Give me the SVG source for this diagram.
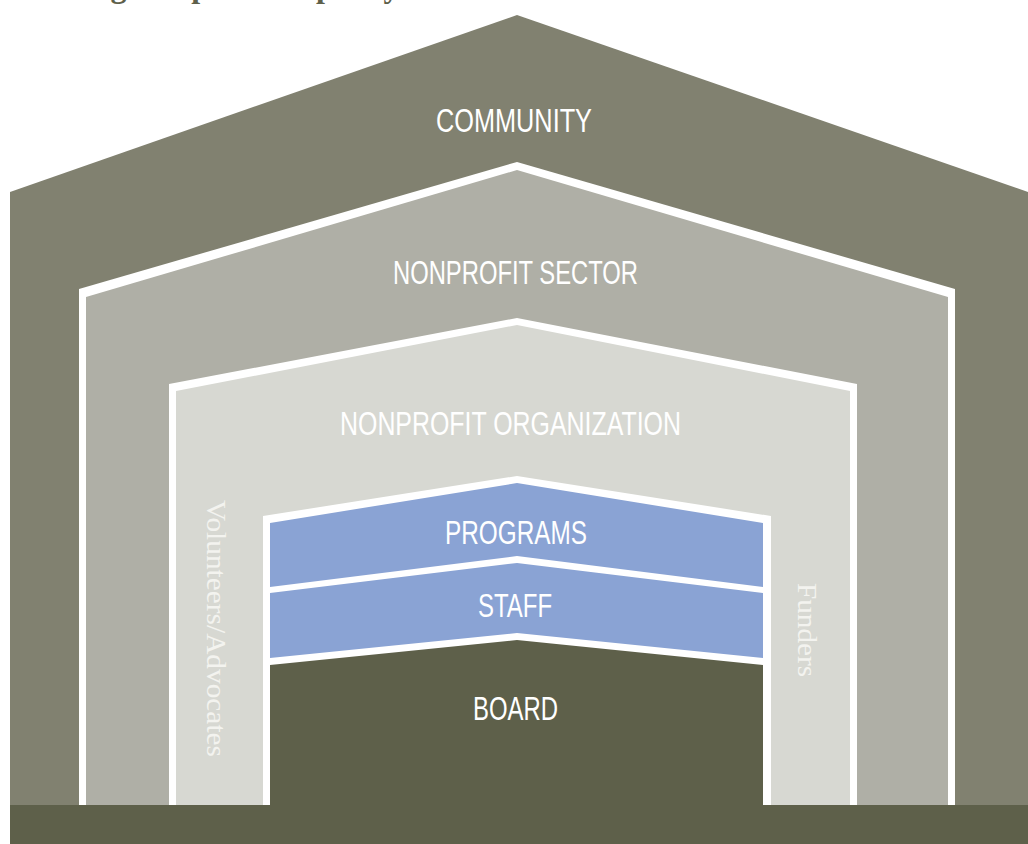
<svg xmlns="http://www.w3.org/2000/svg" width="1028" height="844" viewBox="0 0 1028 844">
<style>
.lbl{font-family:"Liberation Sans Narrow","Liberation Sans",Arial,sans-serif;font-size:33px;fill:#ffffff;}
.side{font-family:"Liberation Serif","Times New Roman",serif;font-size:28px;fill:#f3f3ef;}
.wht{fill:#ffffff;}
</style>
<rect width="1028" height="844" fill="#ffffff"/>
<g id="title">
<text x="9" y="-3" font-family="Liberation Serif, serif" font-weight="bold" font-size="32" fill="#5e604a">Building Nonprofit Capacity</text>
</g>
<g id="community">
<polygon points="10,192 517,15 1028,192 1028,805 10,805" fill="#818170"/>
<text class="lbl" x="436" y="132" textLength="156" lengthAdjust="spacingAndGlyphs">COMMUNITY</text>
</g>
<g id="sector">
<polygon class="wht" points="79,289 517,162 955,289 955,805 79,805"/>
<polygon points="86,297 517,170 948,297 948,805 86,805" fill="#afafa6"/>
<text class="lbl" x="393" y="284" textLength="245" lengthAdjust="spacingAndGlyphs">NONPROFIT SECTOR</text>
</g>
<g id="organization">
<polygon class="wht" points="169,384 517,318 857,384 857,805 169,805"/>
<polygon points="176,391 517,325 850,391 850,805 176,805" fill="#d7d8d2"/>
<text class="lbl" x="340" y="435" textLength="341" lengthAdjust="spacingAndGlyphs">NONPROFIT ORGANIZATION</text>
</g>
<g id="volunteers">
<text class="side" transform="translate(207,500) rotate(90)" x="0" y="0" textLength="257" lengthAdjust="spacingAndGlyphs">Volunteers/Advocates</text>
</g>
<g id="funders">
<text class="side" transform="translate(798,583) rotate(90)" x="0" y="0" textLength="94" lengthAdjust="spacingAndGlyphs">Funders</text>
</g>
<g id="core">
<polygon class="wht" points="263,516 517,476 771,516 771,805 263,805"/>
</g>
<g id="programs">
<polygon points="270,523 517,483 763,523 763,587 517,556 270,587" fill="#8aa3d4"/>
<text class="lbl" x="445" y="544" textLength="142" lengthAdjust="spacingAndGlyphs">PROGRAMS</text>
</g>
<g id="staff">
<polygon points="270,593 517,563 763,593 763,658 517,633 270,658" fill="#8aa3d4"/>
<text class="lbl" x="478" y="617" textLength="74" lengthAdjust="spacingAndGlyphs">STAFF</text>
</g>
<g id="board">
<polygon points="270,665 517,640 763,665 763,805 270,805" fill="#5e604a"/>
<text class="lbl" x="473" y="720" textLength="85" lengthAdjust="spacingAndGlyphs">BOARD</text>
</g>
<g id="base">
<rect x="10" y="805" width="1018" height="39" fill="#5e604a"/>
</g>
</svg>
